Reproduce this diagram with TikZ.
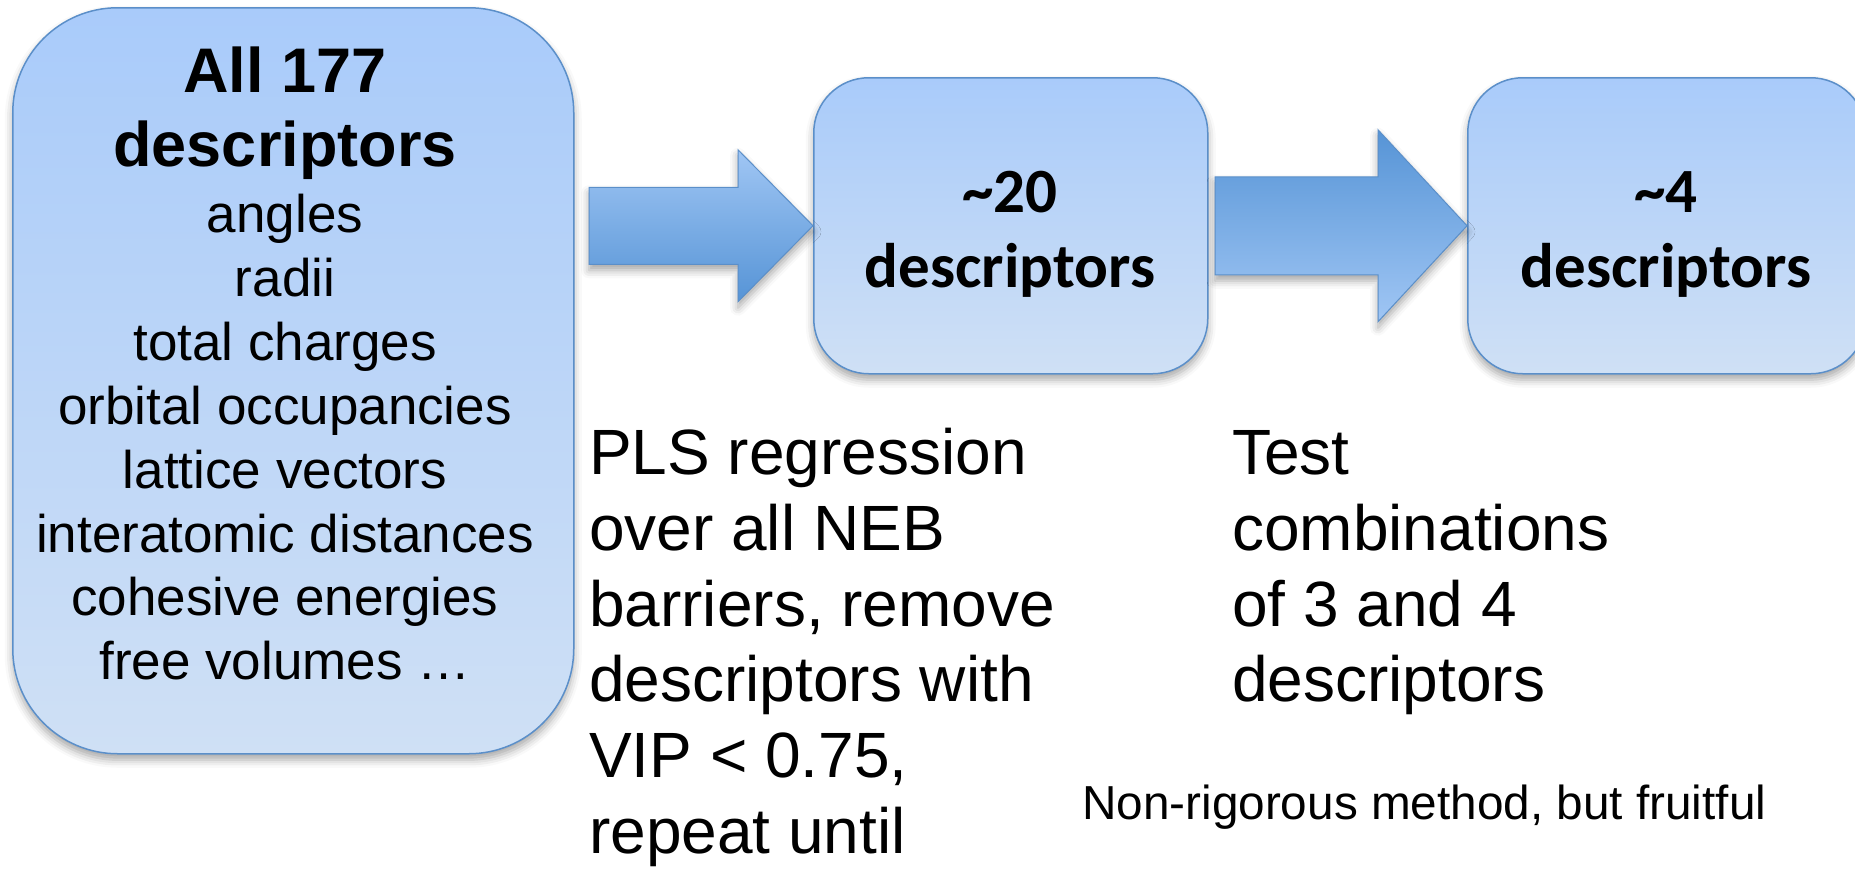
\documentclass[tikz,border=0pt]{standalone}
\usepackage{fontspec}
\setmainfont{Liberation Sans}
\newfontfamily\calib{Carlito}
\usetikzlibrary{shadows.blur}
\definecolor{boxtop}{RGB}{169,203,250}
\definecolor{boxbot}{RGB}{207,224,245}
\definecolor{boxline}{RGB}{91,143,201}
\definecolor{arrdark}{RGB}{86,148,214}
\definecolor{arrlight}{RGB}{160,198,244}
\begin{document}
\begin{tikzpicture}[x=1pt,y=-1pt,
  softshadow/.style={blur shadow={shadow xshift=0pt, shadow yshift=-6pt, shadow blur radius=8pt, shadow opacity=35}},
  panel/.style={draw=boxline, line width=1.5pt, top color=boxtop, bottom color=boxbot, softshadow, inner sep=0pt, anchor=north west},
  arrowA/.style={draw=boxline, line width=1pt, top color=arrlight, bottom color=arrdark, softshadow},
  arrowB/.style={draw=boxline, line width=1pt, top color=arrdark, bottom color=arrlight, softshadow},
  titletxt/.style={anchor=base, inner sep=0pt, font=\bfseries\fontsize{63}{73}\selectfont},
  listtxt/.style={anchor=base, inner sep=0pt, font=\fontsize{53}{64}\selectfont},
  boxtxt/.style={anchor=base, inner sep=0pt, font=\calib\bfseries\fontsize{63}{76}\selectfont},
  steptxt/.style={anchor=base west, inner sep=0pt, font=\fontsize{64}{76}\selectfont},
  notetxt/.style={anchor=base west, inner sep=0pt, font=\fontsize{47.7}{57}\selectfont}]
\useasboundingbox (0,0) rectangle (1855,868);
\clip (0,0) rectangle (1855,868);
% boxes
\node[panel, rounded corners=105pt, minimum width=561pt, minimum height=746pt] (all) at (12,7) {};
\node[panel, rounded corners=55pt, minimum width=394pt, minimum height=296pt] (mid) at (813,77) {};
\node[panel, rounded corners=55pt, minimum width=398pt, minimum height=296pt] (fin) at (1467,77) {};
% block arrows
\path[arrowA] (mid.west) -- ++(-75,-76) -- ++(0,37.5) -- ++(-149,0) -- ++(0,77) -- ++(149,0) -- ++(0,37.5) -- cycle;
\path[arrowB] (fin.west) -- ++(-89,-96) -- ++(0,47) -- ++(-163,0) -- ++(0,98) -- ++(163,0) -- ++(0,47) -- cycle;
% left box text
\node[titletxt] (t1) at (285,92) {All 177};
\node[titletxt] (t2) at (285,166) {descriptors};
\node[listtxt] (l1) at (285,232) {angles};
\node[listtxt] (l2) at (285,296) {radii};
\node[listtxt] (l3) at (285,360) {total charges};
\node[listtxt] (l4) at (285,424) {orbital occupancies};
\node[listtxt] (l5) at (285,488) {lattice vectors};
\node[listtxt] (l6) at (285,552) {interatomic distances};
\node[listtxt] (l7) at (285,615) {cohesive energies};
\node[listtxt] (l8) at (285,679) {free volumes …};
% middle and right box text
\node[boxtxt] (m1) at (1010,212) {\textasciitilde 20};
\node[boxtxt] (m2) at (1010,287) {descriptors};
\node[boxtxt] (f1) at (1666,212) {\textasciitilde 4};
\node[boxtxt] (f2) at (1666,287) {descriptors};
% step descriptions
\node[steptxt] (s1) at (589,474) {PLS regression};
\node[steptxt] (s2) at (589,550) {over all NEB};
\node[steptxt] (s3) at (589,626) {barriers, remove};
\node[steptxt] (s4) at (589,701) {descriptors with};
\node[steptxt] (s5) at (589,777) {VIP < 0.75,};
\node[steptxt] (s6) at (589,853) {repeat until};
\node[steptxt] (r1) at (1232,474) {Test};
\node[steptxt] (r2) at (1232,550) {combinations};
\node[steptxt] (r3) at (1232,626) {of 3 and 4};
\node[steptxt] (r4) at (1232,701) {descriptors};
\node[notetxt] (note) at (1082,819) {Non-rigorous method, but fruitful};
\end{tikzpicture}
\end{document}
